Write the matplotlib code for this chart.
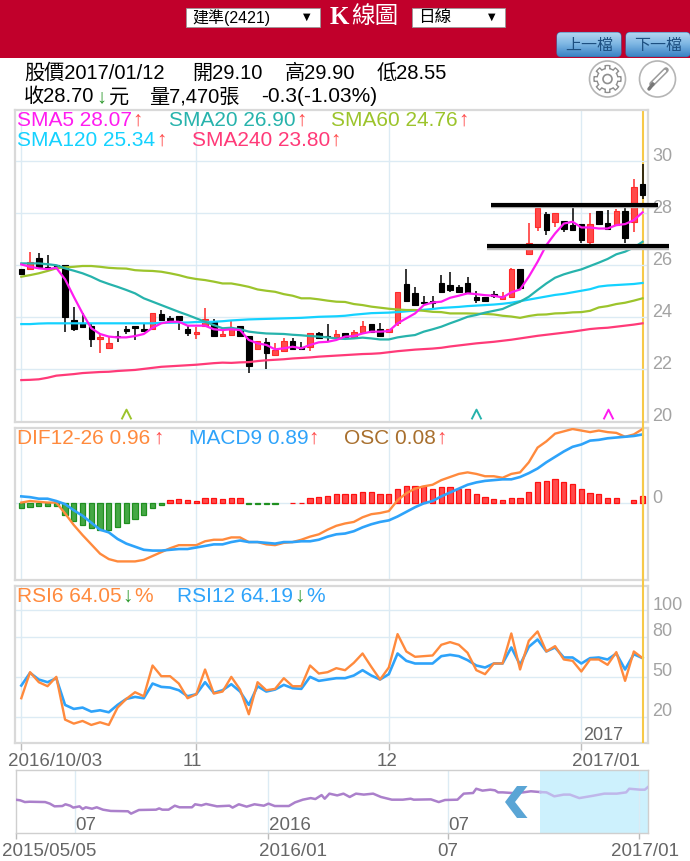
import numpy as np
import matplotlib
matplotlib.use('Agg')
import matplotlib.pyplot as plt
from matplotlib.colors import LinearSegmentedColormap
from matplotlib.patches import Rectangle, FancyBboxPatch, Circle, Polygon
from matplotlib.path import Path
from matplotlib.transforms import ScaledTranslation

plt.rcParams['font.family'] = ['Liberation Sans', 'Noto Sans CJK TC', 'DejaVu Sans']

W, H = 690, 861

# candles, 2016/10/03 .. 2017/01/12
opens = [25.85,25.84,26.26,25.94,26.0,26.0,23.9,23.77,23.67,23.18,22.81,23.3,23.54,23.68,23.55,23.54,24.12,23.96,
         24.06,23.55,23.37,23.66,23.83,23.28,23.32,23.68,23.28,22.77,23.06,22.56,22.7,23.1,22.87,22.87,23.38,23.29,
         23.26,23.38,23.26,23.42,23.74,23.54,23.43,23.77,25.28,24.94,24.6,24.62,25.33,25.24,25.17,25.33,24.79,24.79,
         24.9,24.69,24.79,25.84,26.45,27.45,27.95,27.67,27.71,27.54,27.58,26.88,28.09,27.63,27.54,28.09,27.67,29.10]
closes = [25.67,26.12,25.93,25.84,25.92,24.0,23.56,23.63,23.18,23.26,23.03,23.25,23.48,23.58,23.48,24.15,23.9,23.91,
          23.9,23.38,23.45,23.93,23.28,23.35,23.6,23.28,22.13,23.09,22.64,22.74,23.1,22.77,22.77,23.38,23.19,23.23,
          23.35,23.23,23.43,23.68,23.45,23.28,23.55,24.98,24.62,24.47,24.54,24.56,24.96,25.05,24.98,24.92,24.66,24.64,
          24.83,24.82,25.84,25.11,26.84,28.18,27.35,28.01,27.41,27.35,26.97,27.58,27.58,27.41,28.09,27.03,29.01,28.70]
highs = [25.87,26.52,26.48,26.39,26.02,26.0,24.41,24.18,23.73,23.38,23.26,23.49,23.68,23.68,23.74,24.15,24.28,24.06,
         24.06,23.68,23.64,24.37,23.92,23.58,23.86,23.68,23.28,23.09,23.22,23.02,23.22,23.22,23.06,23.38,23.45,23.74,
         23.51,23.38,23.51,23.84,23.74,23.79,23.55,24.98,25.85,25.15,24.82,24.83,25.61,25.75,25.24,25.56,25.02,24.79,
         25.02,24.98,25.88,25.84,27.64,28.18,28.03,28.01,27.71,28.22,27.58,27.99,28.09,28.12,28.15,28.18,29.31,29.90]
lows = [25.65,25.84,25.93,25.79,25.9,23.42,23.47,23.63,22.85,22.62,22.81,23.05,23.36,23.13,23.48,23.54,23.9,23.82,
        23.51,23.28,23.18,23.66,23.28,23.28,23.32,23.23,21.87,22.77,22.03,22.56,22.7,22.77,22.77,22.7,23.19,23.06,
        23.26,23.23,23.17,23.42,23.45,23.28,23.43,23.67,24.62,24.47,24.47,24.37,24.96,24.98,24.92,24.92,24.56,24.64,
        24.73,24.69,24.79,25.11,26.45,27.31,27.16,27.45,27.26,27.35,26.86,26.83,27.58,27.41,27.54,26.84,27.26,28.55]

sma5 = [26.03,25.94,25.88,25.85,25.9,25.46,24.79,24.15,23.58,23.36,23.26,23.23,23.23,23.28,23.36,23.6,23.77,23.83,
        23.83,23.68,23.68,23.68,23.54,23.51,23.54,23.51,23.13,23.0,22.94,22.77,22.81,22.87,22.81,22.94,23.04,23.06,
        23.13,23.26,23.28,23.38,23.45,23.45,23.47,23.77,23.96,24.15,24.47,24.57,24.6,24.75,24.83,24.92,24.89,24.85,
        24.83,24.76,24.96,25.07,25.56,26.13,26.77,27.22,27.6,27.67,27.45,27.45,27.41,27.41,27.54,27.58,27.73,28.03]
sma20 = [26.07,26.07,26.07,26.04,26.0,25.88,25.79,25.69,25.56,25.4,25.28,25.17,25.05,24.92,24.73,24.6,24.47,24.34,
         24.21,24.09,23.96,23.83,23.7,23.58,23.6,23.54,23.45,23.41,23.38,23.37,23.36,23.33,23.31,23.28,23.26,23.23,
         23.19,23.17,23.19,23.22,23.19,23.15,23.15,23.23,23.28,23.32,23.45,23.54,23.64,23.77,23.89,24.02,24.09,24.18,
         24.25,24.32,24.47,24.6,24.79,25.05,25.3,25.52,25.65,25.75,25.84,25.97,26.1,26.24,26.42,26.52,26.68,26.9]
sma60 = [25.56,25.62,25.69,25.78,25.88,25.92,25.94,25.97,25.97,25.94,25.9,25.88,25.87,25.81,25.79,25.78,25.75,25.69,
         25.62,25.53,25.47,25.43,25.37,25.3,25.3,25.24,25.17,25.07,25.02,24.98,24.89,24.83,24.73,24.73,24.69,24.64,
         24.6,24.59,24.51,24.47,24.41,24.37,24.33,24.3,24.28,24.28,24.25,24.21,24.2,24.15,24.15,24.15,24.14,24.13,
         24.11,24.06,24.03,23.98,24.05,24.1,24.11,24.15,24.16,24.19,24.2,24.25,24.38,24.43,24.51,24.56,24.64,24.73]
sma120 = [23.74,23.74,23.76,23.77,23.77,23.77,23.77,23.77,23.77,23.77,23.77,23.77,23.77,23.77,23.77,23.77,23.79,23.79,
          23.8,23.8,23.82,23.82,23.83,23.85,23.88,23.9,23.92,23.93,23.94,23.95,23.96,23.97,23.98,24.0,24.02,24.03,
          24.04,24.06,24.1,24.13,24.16,24.17,24.18,24.2,24.23,24.26,24.29,24.32,24.36,24.38,24.4,24.43,24.45,24.47,
          24.49,24.52,24.56,24.62,24.68,24.74,24.8,24.86,24.9,24.96,25.02,25.08,25.18,25.22,25.24,25.26,25.28,25.32]
sma240 = [21.59,21.6,21.62,21.68,21.76,21.79,21.82,21.86,21.88,21.9,21.91,21.94,21.96,21.98,22.02,22.06,22.1,22.12,
          22.14,22.16,22.18,22.21,22.24,22.26,22.25,22.27,22.28,22.32,22.35,22.37,22.39,22.42,22.44,22.46,22.49,22.51,
          22.53,22.55,22.57,22.59,22.6,22.62,22.66,22.7,22.73,22.76,22.78,22.8,22.83,22.88,22.92,22.96,23.0,23.03,
          23.06,23.1,23.14,23.19,23.24,23.29,23.33,23.37,23.41,23.45,23.5,23.55,23.58,23.6,23.64,23.68,23.72,23.77]

dif = [0.01,0.03,0.02,0.01,0.01,-0.13,-0.28,-0.41,-0.53,-0.65,-0.72,-0.75,-0.75,-0.75,-0.73,-0.68,-0.63,-0.58,
       -0.54,-0.54,-0.54,-0.49,-0.47,-0.47,-0.44,-0.44,-0.5,-0.5,-0.53,-0.54,-0.51,-0.5,-0.47,-0.43,-0.4,-0.34,
       -0.29,-0.26,-0.24,-0.18,-0.14,-0.125,-0.1,0.04,0.13,0.19,0.22,0.24,0.3,0.34,0.38,0.4,0.38,0.35,
       0.35,0.33,0.38,0.4,0.53,0.72,0.8,0.9,0.93,0.96,0.94,0.92,0.94,0.92,0.91,0.86,0.89,0.96]
macd = [0.09,0.08,0.06,0.06,0.03,-0.01,-0.09,-0.16,-0.25,-0.34,-0.375,-0.46,-0.52,-0.56,-0.6,-0.61,-0.61,-0.6,
        -0.59,-0.59,-0.57,-0.55,-0.53,-0.53,-0.5,-0.48,-0.5,-0.5,-0.51,-0.52,-0.5,-0.5,-0.49,-0.49,-0.47,-0.43,
        -0.4,-0.39,-0.36,-0.31,-0.27,-0.24,-0.22,-0.17,-0.11,-0.05,0.0,0.03,0.09,0.14,0.19,0.24,0.27,0.29,
        0.3,0.31,0.31,0.34,0.39,0.45,0.53,0.6,0.67,0.73,0.76,0.81,0.82,0.84,0.85,0.86,0.87,0.89]
osc = [-0.065,-0.05,-0.03,-0.03,-0.03,-0.15,-0.23,-0.28,-0.32,-0.34,-0.34,-0.31,-0.25,-0.2,-0.15,-0.065,-0.02,0.04,
       0.05,0.04,0.035,0.07,0.07,0.055,0.07,0.07,-0.01,-0.01,-0.01,-0.01,0.0,0.01,0.01,0.065,0.085,0.1,
       0.115,0.115,0.115,0.15,0.15,0.115,0.115,0.18,0.23,0.23,0.23,0.19,0.215,0.215,0.19,0.18,0.115,0.085,
       0.05,0.04,0.07,0.07,0.15,0.28,0.29,0.31,0.28,0.245,0.18,0.13,0.115,0.07,0.07,0.0,0.04,0.09]

rsi6 = [34,53.5,46,43,50,18,15,17,14,16,14,27,33.5,38.5,35.5,58.5,50.5,50.5,
        45,34,37,55.5,37.5,39,50,40.5,22,46,40,41,49,43,43,58.5,52.5,53.5,
        56.5,55,60.5,67.5,57.5,48,57,82,69,65,65.5,66,74,76,74,68,55,52,
        60,60,82.5,55.5,77,84,69,73,63,62,54,63,63,59,68.5,47,69,64]
rsi12 = [43.5,53,48,46,49,29,26,27,24,25,23.5,29,33.5,35,34,45,42.5,42,
         40,35.5,37,46,38,40,44.5,39,29,43,39,40.5,44,41.5,41,50,47,48,
         49,49,51,55,51,48,52,67.5,62,60,60,60,65.5,66.5,65.5,62.5,58.5,57,
         60,60,72,59,72.5,78,69,72,64.5,64.5,60,64,64.5,63,67.5,55.5,67,64]

# overview line at the bottom, 2015/05/05 .. 2017/01/12
nav_day = [0,3,6,9,19,22,25,30,32,35,37,41,43,45,49,52,56,61,72,74,79,90,92,94,98,102,105,113,115,119,122,129,137,139,143,148,153,159,162,166,175,179,184,189,192,196,198,201,
           206,210,214,218,223,229,234,241,248,253,255,266,271,275,283,287,293,295,299,304,307,309,312,318,325,330,336,340,345,351,355,361,370,377,385,391,393,400,403,405]
nav_val = [21,20.6,19.5,19.7,19.5,18.5,16.8,17,18.1,17.2,16,16.8,15.1,16.2,15.3,16.2,14.7,13.9,13.7,12.2,14.5,14.7,15.5,14.7,14.7,17.2,16.2,16.2,18.1,17.4,18.3,16.8,17.2,16,18.1,16.6,18.1,17.2,18.5,17,17,19.3,21,22,21.4,23.9,21.6,24.8,
           23.7,24.8,22.7,24.8,24.2,24.8,22.7,21,21,21.6,21,21.2,19.5,20.8,21,24.8,25.2,27.9,26.7,27.3,26.9,25.6,25.6,25.2,25.6,26.3,25.8,25.6,23.1,24.2,24.2,22,23.5,24.8,24.8,25.6,27.9,27.3,27.3,29]

grid_days = [0, 20, 42, 64]
nav_grid = [38, 162, 277, 399]
nav_start = 336

price_ticks = [20, 22, 24, 26, 28, 30]
rsi_ticks = [20, 50, 80, 100]

days = np.arange(len(closes))
x_lim = (-0.72, 71.62)

GRID = '#dcebf4'
FRAME = '#d9d9d9'
LABEL = '#a3a3a3'
CURSOR = '#f7c948'
C5, C20, C60, C120, C240 = '#ff1cf0', '#27b3ac', '#9cc42c', '#14d2ff', '#ff3a78'
ORANGE, BLUE, BROWN = '#ff8a3d', '#2ea3fa', '#a86f2d'
UP, DOWN = '#ff4d4d', '#2e9a2e'


def panel(top, bottom):
    ax = fig.add_axes([15 / W, 1 - bottom / H, 633 / W, (bottom - top) / H])
    ax.set_xlim(*x_lim)
    ax.set_xticks([])
    ax.yaxis.tick_right()
    ax.tick_params(axis='y', length=0, pad=3, labelsize=13, labelcolor=LABEL)
    for s in ax.spines.values():
        s.set_color(FRAME)
        s.set_linewidth(1.6)
    for d in grid_days:
        ax.axvline(d, color=GRID, lw=1, zorder=0)
    return ax


def shift_labels(ax):
    # labels sit just above their grid line
    for lab in ax.get_yticklabels():
        lab.set_va('bottom')
        lab.set_transform(lab.get_transform() + ScaledTranslation(0, -3.5 / 100, fig.dpi_scale_trans))


fig = plt.figure(figsize=(W / 100, H / 100), dpi=100)

# price panel
ax1 = panel(110, 421.5)
ax1.set_ylim(20, 31.96)
ax1.set_yticks(price_ticks)
ax1.grid(axis='y', color=GRID, lw=1, zorder=0)
shift_labels(ax1)
ax1.axvline(days[-1], color=CURSOR, lw=1.5, zorder=1)
for i in days:
    up = closes[i] >= opens[i]
    c = '#ff2a2a' if up else 'black'
    ax1.vlines(i, lows[i], highs[i], color=c, lw=1.1, zorder=2)
    ax1.bar(i, abs(closes[i] - opens[i]), bottom=min(opens[i], closes[i]), width=0.62,
            color='#ff4a4a' if up else 'black', edgecolor=c, lw=0.8, zorder=3)
ax1.plot(days, sma240, color=C240, lw=1.6, zorder=4)
ax1.plot(days, sma120, color=C120, lw=1.6, zorder=4)
ax1.plot(days, sma60, color=C60, lw=1.6, zorder=4)
ax1.plot(days, sma20, color=C20, lw=1.6, zorder=4)
ax1.plot(days, sma5, color=C5, lw=1.6, zorder=5)

chevron = Path([(-1, -1), (0, 1), (1, -1)], [Path.MOVETO, Path.LINETO, Path.LINETO])
ax1.plot([12], [20.27], marker=chevron, ms=7, mfc='none', mec=C60, mew=1.4, ls='none', clip_on=False)
ax1.plot([52], [20.27], marker=chevron, ms=7, mfc='none', mec=C20, mew=1.4, ls='none', clip_on=False)
ax1.plot([67], [20.27], marker=chevron, ms=7, mfc='none', mec=C5, mew=1.4, ls='none', clip_on=False)

# hand drawn support / resistance bars
ax1.plot([53.65, 72.8], [28.29, 28.29], color='#bbbbbb', lw=3.2, solid_capstyle='butt', clip_on=False, zorder=6)
ax1.plot([53.65, 72.8], [28.33, 28.33], color='black', lw=3, solid_capstyle='butt', clip_on=False, zorder=7)
ax1.plot([53.2, 74.0], [26.68, 26.68], color='#bbbbbb', lw=3.2, solid_capstyle='butt', clip_on=False, zorder=6)
ax1.plot([53.2, 74.0], [26.72, 26.72], color='black', lw=3, solid_capstyle='butt', clip_on=False, zorder=7)

# MACD panel
ax2 = panel(428, 580)
ax2.set_ylim(-0.99, 0.973)
ax2.set_yticks([0])
ax2.axhline(0, color=GRID, lw=1, zorder=0)
shift_labels(ax2)
osc_arr = np.array(osc)
ax2.bar(days[osc_arr > 0], osc_arr[osc_arr > 0], width=0.6, color='#ff4a4a', edgecolor='#ff1010', lw=0.9, zorder=2)
ax2.bar(days[osc_arr < 0], osc_arr[osc_arr < 0], width=0.6, color='#45a845', edgecolor='#1f8f1f', lw=0.9, zorder=2)
ax2.plot(days, dif, color=ORANGE, lw=1.7, zorder=3)
ax2.plot(days, macd, color=BLUE, lw=1.9, zorder=4)

# RSI panel
ax3 = panel(586, 743)
ax3.set_ylim(0.5, 118)
ax3.set_yticks(rsi_ticks)
ax3.grid(axis='y', color=GRID, lw=1, zorder=0)
shift_labels(ax3)
ax3.set_xticks(grid_days)
ax3.set_xticklabels([])
ax3.tick_params(axis='x', length=5, width=1, color='#bbbbbb')
ax3.plot(days, rsi12, color=BLUE, lw=1.9, zorder=3)
ax3.plot(days, rsi6, color=ORANGE, lw=1.7, zorder=4)

# overview panel
ax4 = fig.add_axes([15.5 / W, 1 - 833 / H, 632.5 / W, 63 / H])
ax4.set_xlim(0, 405)
ax4.set_ylim(0, 39.7)
ax4.set_yticks([])
ax4.set_xticks([0, 162, 277, 399])
ax4.set_xticklabels([])
ax4.tick_params(axis='x', length=4, width=1, color='#bbbbbb')
for s in ax4.spines.values():
    s.set_color('#cfcfcf')
    s.set_linewidth(1)
for d in nav_grid:
    ax4.axvline(d, color=GRID, lw=1, zorder=2)
ax4.axvspan(nav_start, 405, color='#cdf1fd', lw=0, zorder=1)
split = nav_day.index(nav_start)
ax4.plot(nav_day[:split + 1], nav_val[:split + 1], color='#ab80cb', lw=1.8, zorder=3)
ax4.plot(nav_day[split:], nav_val[split:], color='#bfb7ea', lw=1.8, zorder=3)

# cursor line across the gaps between panels
for ax in (ax2, ax3):
    ax.axvline(days[-1], color=CURSOR, lw=1.5, zorder=6)
cur = fig.add_axes([15 / W, 1 - 586 / H, 633 / W, 165 / H])
cur.set_xlim(*x_lim)
cur.axis('off')
cur.patch.set_alpha(0)
cur.axvline(days[-1], color=CURSOR, lw=1.5)

# page chrome and labels in pixel coordinates
ui = fig.add_axes([0, 0, 1, 1], zorder=10)
ui.set_xlim(0, W)
ui.set_ylim(H, 0)
ui.axis('off')
ui.patch.set_alpha(0)


def T(x, y, s, color='black', size=15, ha='left', **kw):
    ui.text(x, y, s, color=color, fontsize=size, ha=ha, va='center', **kw)


ui.add_patch(Rectangle((0, 0), W, 57.5, color='#c1002b', lw=0))
ui.add_patch(Rectangle((186, 8), 134, 19, facecolor='white', edgecolor='#999999', lw=0.6))
ui.add_patch(Rectangle((412, 8), 93, 19, facecolor='white', edgecolor='#999999', lw=0.6))
T(192, 17.5, '建準(2421)', size=11.5)
T(492, 16.5, '▼', size=7, ha='center', family=['DejaVu Sans'])
T(307, 16.5, '▼', size=7, ha='center', family=['DejaVu Sans'])
T(418, 17.5, '日線', size=12)
T(330, 17, 'K', color='white', size=18, family=['Liberation Serif'], weight='bold')
T(351, 17, '線圖', color='white', size=17)

button_cmap = LinearSegmentedColormap.from_list('btn', ['#b4d7f1', '#7db6e3', '#3f86c6'])
for bx, txt in [(557, '上一檔'), (626, '下一檔')]:
    box = FancyBboxPatch((bx + 4, 36.5), 56, 16, boxstyle='round,pad=4', facecolor='none', edgecolor='#3a78b0', lw=0.8)
    ui.add_patch(box)
    im = ui.imshow(np.linspace(0, 1, 24)[:, None], extent=(bx, bx + 64, 56.5, 32.5), cmap=button_cmap, aspect='auto', zorder=1.5)
    im.set_clip_path(box)
    T(bx + 32, 45, txt, color='#1d4f80', size=11.5, ha='center', zorder=3)
ui.set_xlim(0, W)
ui.set_ylim(H, 0)

# quote lines
T(24, 73, '股價2017/01/12', size=14.5)
T(192, 73, '開29.10', size=14.5)
T(285, 73, '高29.90', size=14.5)
T(377, 73, '低28.55', size=14.5)
T(24, 97, '收28.70', size=14.5)
T(96, 97, '↓', color=DOWN, size=14.5)
T(108.5, 97, '元', size=14.5)
T(149, 97, '量7,470張', size=14.5)
T(261, 97, '-0.3(-1.03%)', size=15)

# gear and pen icons
ui.add_patch(Circle((607.5, 79), 18, facecolor='white', edgecolor='#b5b5b5', lw=1.2))
ui.add_patch(Circle((657.5, 79), 18, facecolor='white', edgecolor='#b5b5b5', lw=1.2))
ang = np.linspace(0, 2 * np.pi, 145)
rad = 10.5 + 3 * (np.cos(8 * ang) > 0)
ui.add_patch(Polygon(np.c_[607.5 + rad * np.cos(ang), 79 + rad * np.sin(ang)], closed=True, facecolor='white', edgecolor='#8f8f8f', lw=1))
ui.add_patch(Circle((607.5, 79), 4.5, facecolor='white', edgecolor='#8f8f8f', lw=1.2))
ui.plot([652, 666], [84, 70], color='#9a9a9a', lw=4, solid_capstyle='round')
ui.plot([654, 665], [82, 71], color='white', lw=1.8, solid_capstyle='round')
ui.plot([649, 653], [89, 84], color='#777777', lw=2.5, solid_capstyle='round')

# legends
T(17, 120, 'SMA5 28.07', color=C5)
T(132, 120, '↑', color=UP)
T(169, 120, 'SMA20 26.90', color=C20)
T(296, 120, '↑', color=UP)
T(331, 120, 'SMA60 24.76', color=C60)
T(458, 120, '↑', color=UP)
T(17, 140, 'SMA120 25.34', color=C120)
T(156, 140, '↑', color=UP)
T(192, 140, 'SMA240 23.80', color=C240)
T(330, 140, '↑', color=UP)
T(17, 438, 'DIF12-26 0.96', color=ORANGE)
T(153, 438, '↑', color=UP)
T(189, 438, 'MACD9 0.89', color=BLUE)
T(308, 438, '↑', color=UP)
T(344, 438, 'OSC 0.08', color=BROWN)
T(436, 438, '↑', color=UP)
T(17, 596, 'RSI6 64.05', color=ORANGE)
T(122, 596, '↓', color=DOWN)
T(134, 596, '%', color=ORANGE)
T(177, 596, 'RSI12 64.19', color=BLUE)
T(294, 596, '↓', color=DOWN)
T(306, 596, '%', color=BLUE)

# date labels
GR = '#666666'
T(603, 735, '2017', color=GR, size=13, ha='center')
T(55, 762, '2016/10/03', color=GR, size=13.5, ha='center')
T(192, 762, '11', color=GR, size=13.5, ha='center')
T(387, 762, '12', color=GR, size=13.5, ha='center')
T(606, 762, '2017/01', color=GR, size=13.5, ha='center')
T(86, 826, '07', color=GR, size=13.5, ha='center')
T(290, 826, '2016', color=GR, size=13.5, ha='center')
T(459, 826, '07', color=GR, size=13.5, ha='center')
T(49, 851, '2015/05/05', color=GR, size=13.5, ha='center')
T(293, 851, '2016/01', color=GR, size=13.5, ha='center')
T(448, 851, '07', color=GR, size=13.5, ha='center')
T(645, 851, '2017/01', color=GR, size=13.5, ha='center')

# overview handle arrow
ui.add_patch(Polygon([(517, 786), (527.5, 786), (515, 802), (527.5, 818), (517, 818), (505, 802)], closed=True, facecolor='#5aa5d5', edgecolor='none'))

fig.savefig('out.png', dpi=100)
